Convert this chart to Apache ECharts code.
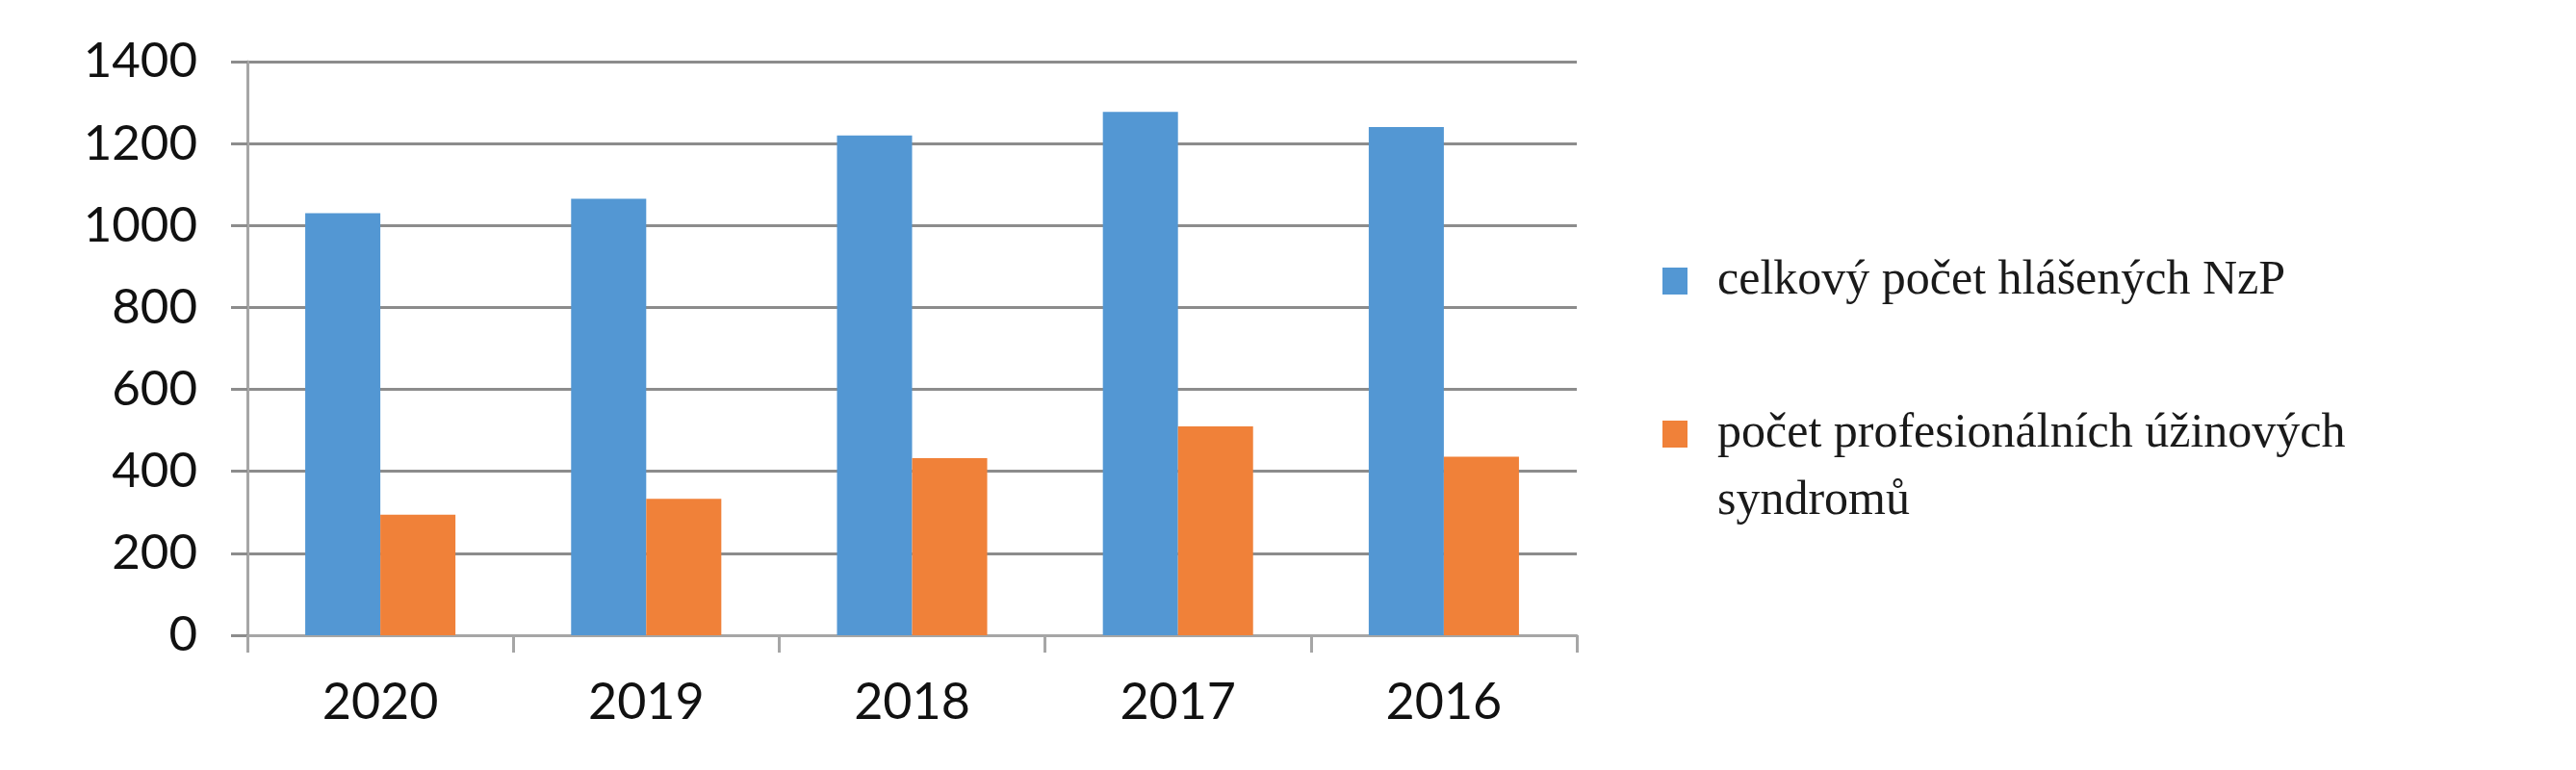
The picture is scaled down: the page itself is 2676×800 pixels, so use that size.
<!DOCTYPE html>
<html>
<head>
<meta charset="utf-8">
<script src="https://cdn.jsdelivr.net/npm/echarts@6/dist/echarts.min.js"></script>
<style>
  html, body { margin: 0; padding: 0; background: #fff; }
  #chart { width: 2676px; height: 800px; }
</style>
</head>
<body>
<div id="chart"></div>
<script>
// data
const years = ['2020', '2019', '2018', '2017', '2016'];
const totalNzP = [1030, 1065, 1220, 1277, 1240];
const stenosisSyndromes = [294, 333, 432, 510, 436];
const seriesNames = ['celkový počet hlášených NzP', 'počet profesionálních úžinových\nsyndromů'];

const gridColor = '#8c8c8c';
const axisColor = '#a6a6a6';

const chart = echarts.init(document.getElementById('chart'));

const legendBase = {
  orient: 'vertical',
  left: 1727,
  padding: 0,
  itemWidth: 26,
  itemHeight: 28,
  icon: 'rect',
  selectedMode: false,
  textStyle: {
    fontFamily: 'Liberation Serif', fontSize: 50, color: '#1a1a1a',
    lineHeight: 70, padding: [0, 0, 0, 26]
  }
};

chart.setOption({
  animation: false,
  backgroundColor: '#fff',
  grid: { left: 257, right: 1038, top: 64, bottom: 140, containLabel: false },
  legend: [
    Object.assign({}, legendBase, {
      top: 257,
      data: [seriesNames[0]]
    }),
    Object.assign({}, legendBase, {
      top: 346,
      data: [seriesNames[1]],
      // blank first line keeps the first text line level with the swatch
      formatter: name => '\n' + name
    })
  ],
  xAxis: {
    type: 'category',
    data: years,
    axisLine: { lineStyle: { color: axisColor, width: 3 } },
    axisTick: { show: true, length: 18, lineStyle: { color: axisColor, width: 3 } },
    axisLabel: { fontFamily: 'Lato', fontSize: 52, color: '#111', margin: 44 }
  },
  yAxis: {
    type: 'value',
    min: 0,
    max: 1400,
    interval: 200,
    axisLine: { show: true, lineStyle: { color: axisColor, width: 3 } },
    axisTick: { show: true, length: 17, lineStyle: { color: gridColor, width: 3 } },
    axisLabel: { fontFamily: 'Lato', fontSize: 51, color: '#111', margin: 52, formatter: v => String(v) },
    splitLine: { lineStyle: { color: gridColor, width: 3 } }
  },
  series: [
    {
      name: seriesNames[0],
      type: 'bar',
      data: totalNzP,
      barGap: '0%',
      barCategoryGap: '43.5%',
      itemStyle: { color: '#5397d3' }
    },
    {
      name: seriesNames[1],
      type: 'bar',
      data: stenosisSyndromes,
      barGap: '0%',
      barCategoryGap: '43.5%',
      itemStyle: { color: '#f08139' }
    }
  ]
});
</script>
</body>
</html>
